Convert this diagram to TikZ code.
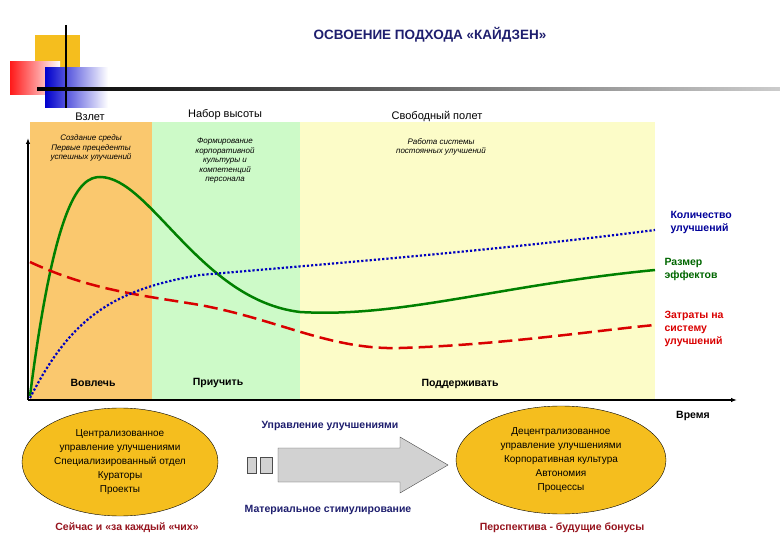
\documentclass[tikz,border=0pt]{standalone}
\usepackage{fontspec}
\setmainfont{Liberation Sans}
\usetikzlibrary{shapes.geometric,arrows.meta,shadings}
\definecolor{navy}{RGB}{30,30,110}
\definecolor{dred}{RGB}{150,20,30}
\definecolor{orng}{RGB}{250,200,110}
\definecolor{lgrn}{RGB}{205,250,200}
\definecolor{lyel}{RGB}{252,252,200}
\definecolor{gld}{RGB}{245,190,30}
\tikzset{
 hdr/.style={font=\fontsize{11}{12}\selectfont},
 sm/.style={font=\fontsize{8}{9.5}\itshape\selectfont,align=center},
 bd/.style={font=\fontsize{10.5}{13}\bfseries\selectfont,align=center},
 bl/.style={font=\fontsize{10.5}{13}\bfseries\selectfont,align=left,anchor=west},
 el/.style={ellipse,draw=black,fill=gld,font=\fontsize{10}{14}\selectfont,align=center,inner sep=0pt}
}
\begin{document}
\begin{tikzpicture}[x=1pt,y=-1pt]
\useasboundingbox (0,0) rectangle (780,540);
% logo
\fill[gld] (35,35) rectangle (80,85);
\shade[left color=red!90,right color=white] (10,62) rectangle (60,95);
\shade[left color=blue!80!black,right color=white] (45,68) rectangle (108,108);
\draw[line width=1.3pt] (66,25) -- (66,108);
\shade[left color=black,right color=gray!40] (37,88) rectangle (780,90.5);
\node[font=\fontsize{13.5}{15}\bfseries\selectfont,text=navy] (title) at (430,35) {ОСВОЕНИЕ ПОДХОДА «КАЙДЗЕН»};
% bands
\fill[orng] (30,122) rectangle (152,400);
\fill[lgrn] (152,122) rectangle (300,400);
\fill[lyel] (300,122) rectangle (655,400);
\node[hdr] (h1) at (90,117) {Взлет};
\node[hdr] (h2) at (225,115) {Набор высоты};
\node[hdr] (h3) at (437,117) {Свободный полет};
\node[sm] (s1) at (91,148) {Создание среды\\Первые прецеденты\\успешных улучшений};
\node[sm] (s2) at (225,161) {Формирование\\корпоративной\\культуры и\\компетенций\\персонала};
\node[sm] (s3) at (441,147) {Работа системы\\постоянных улучшений};
% axes
\coordinate (o) at (28,400);
\coordinate (ytop) at (28,138);
\coordinate (xend) at (737,400);
\draw[line width=1.3pt,-{Latex[length=6pt]}] (o) -- (ytop);
\draw[line width=1.3pt,-{Latex[length=6pt]}] (o) -- (xend);
% curves
\draw[green!50!black,line width=2.5pt] (30,396) .. controls (55,200) and (80,177) .. (100,177)
 .. controls (150,177) and (200,300) .. (300,312)
 .. controls (400,318) and (500,285) .. (655,270);
\draw[red!85!black,line width=2.5pt,dash pattern=on 14pt off 6pt] (30,262) .. controls (90,290) and (140,295) .. (200,305)
 .. controls (280,320) and (330,350) .. (400,348)
 .. controls (500,345) and (600,330) .. (655,325);
\draw[blue!75!black,line width=2.2pt,dotted] (30,398) .. controls (70,320) and (110,290) .. (200,275)
 .. controls (350,262) and (500,250) .. (655,230);
\node[bl,text=blue!60!black] (lq) at (667,222) {Количество\\улучшений};
\node[bl,text=green!40!black] (lr) at (661,269) {Размер\\эффектов};
\node[bl,text=red!85!black] (lz) at (661,329) {Затраты на\\систему\\улучшений};
\node[bd] (b1) at (93,383) {Вовлечь};
\node[bd] (b2) at (218,383) {Приучить};
\node[bd] (b3) at (460,384) {Поддерживать};
\node[bd] (tm) at (693,416) {Время};
% bottom
\node[el,minimum width=196pt,minimum height=108pt] (e1) at (120,462) {Централизованное\\управление улучшениями\\Специализированный отдел\\Кураторы\\Проекты};
\node[el,minimum width=210pt,minimum height=108pt] (e2) at (561,460) {Децентрализованное\\управление улучшениями\\Корпоративная культура\\Автономия\\Процессы};
\draw[fill=gray!35,draw=gray!60!black] (247,457) rectangle (256,473);
\draw[fill=gray!35,draw=gray!60!black] (260,457) rectangle (272,473);
\draw[fill=gray!35,draw=gray!60!black] (278,448) -- (400,448) -- (400,437) -- (448,465) -- (400,493) -- (400,482) -- (278,482) -- cycle;
\node[bd,text=navy] (u) at (330,426) {Управление улучшениями};
\node[bd,text=navy] (m) at (328,510) {Материальное стимулирование};
\node[bd,text=dred] (n1) at (127,528) {Сейчас и «за каждый «чих»};
\node[bd,text=dred] (n2) at (562,528) {Перспектива - будущие бонусы};
\end{tikzpicture}
\end{document}
